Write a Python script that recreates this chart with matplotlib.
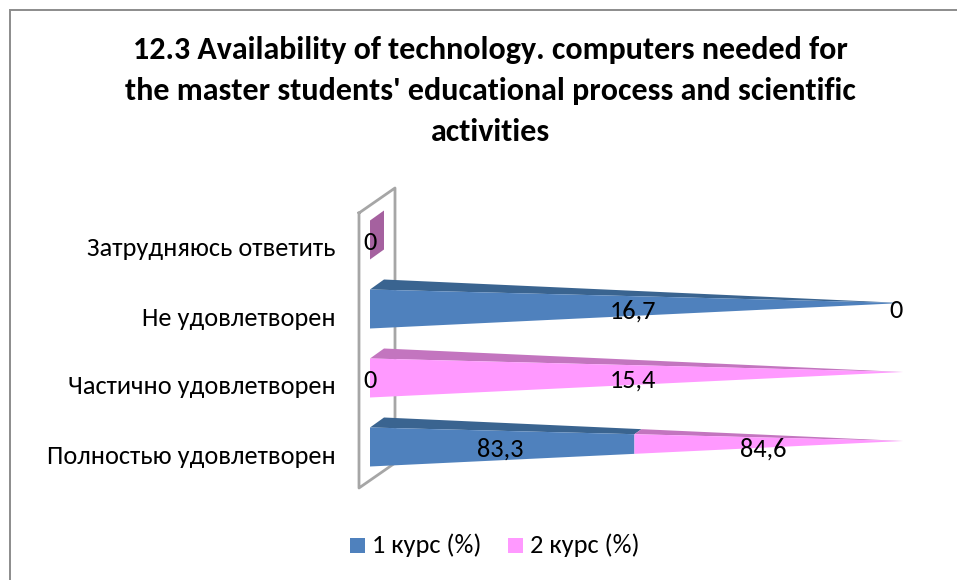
import numpy as np
import matplotlib
matplotlib.use('Agg')
import matplotlib.pyplot as plt
from matplotlib.patches import Rectangle

plt.rcParams['font.family'] = ['Carlito', 'Lato', 'Noto Sans', 'DejaVu Sans']

W, H = 957, 580

categories = ['Полностью удовлетворен', 'Частично удовлетворен', 'Не удовлетворен', 'Затрудняюсь ответить']
course1 = [83.3, 0, 16.7, 0]
course2 = [84.6, 15.4, 0, 0]
series_names = ['1 курс (%)', '2 курс (%)']
labels1 = ['83,3', '0', '16,7', '0']
labels2 = ['84,6', '15,4', '0', '']
title = ("12.3 Availability of technology. computers needed for\n"
         "the master students' educational process and scientific\n"
         "activities")

col1, col1_top = '#4F81BD', '#3A6490'
col2, col2_top = '#FF99FF', '#C375BF'
col_empty = '#A5619F'
fs = 19

fig = plt.figure(figsize=(W / 100, H / 100), dpi=100)

# chart frame and wall live in a pixel overlay
bg = fig.add_axes([0, 0, 1, 1])
bg.set_xlim(0, W)
bg.set_ylim(H, 0)
bg.axis('off')
bg.add_patch(Rectangle((9.5, 9.5), W + 10, H + 10, fc='white', ec='#8C8C8C', lw=1.4))
bg.plot([359, 395, 395, 359, 359], [213, 188, 463, 488, 213], color='#A6A6A6', lw=2)

# percent-stacked axis: 0..100 is x 370..903, one category is 69 px
step = 69.0
left, right = 370, 903
y0 = 447.0
ax = fig.add_axes([left / W, 0, (right - left) / W, 1])
ax.set_xlim(0, 100)
ax.set_ylim((y0 - H) / step, y0 / step)
ax.patch.set_alpha(0)
for s in ax.spines.values():
    s.set_visible(False)
ax.xaxis.set_visible(False)
# tick labels sit lower than the bar centres
ax.set_yticks([i - 7 / step for i in range(len(categories))])
ax.set_yticklabels(categories, fontsize=fs, color='black')
ax.tick_params(axis='y', length=0, pad=25)

half = 19.5 / step      # half height of pyramid base
dx_back = 14 / (right - left) * 100   # depth offset of the base
dy_back = 10 / step
rise = 6 / step         # apex sits above the centre of the base
label_drop = 2 / step


def piece(y, a, b, col, col_top):
    # slice of the pyramid between shares a and b (0..1)
    apex = y + rise
    t = lambda s: y + half + (apex - y - half) * s
    u = lambda s: y - half + (apex - y + half) * s
    bx = lambda s: dx_back + (100 - dx_back) * s
    by = lambda s: y + half + dy_back + (apex - y - half - dy_back) * s
    ax.fill([bx(a), bx(b), b * 100, a * 100], [by(a), by(b), t(b), t(a)], color=col_top, lw=0)
    ax.fill([a * 100, b * 100, b * 100, a * 100], [t(a), t(b), u(b), u(a)], color=col, lw=0)


for i in range(len(categories)):
    total = course1[i] + course2[i]
    if total == 0:
        # empty category: only the base shows
        ax.fill([0, dx_back, dx_back, 0],
                [i + half, i + half + dy_back, i - half + dy_back, i - half],
                color=col_empty, lw=0)
        ax.text(0, i - label_drop, labels1[i], ha='center', va='center', fontsize=fs)
        continue
    s1 = course1[i] / total
    if s1 > 0:
        piece(i, 0, s1, col1, col1_top)
    if s1 < 1:
        piece(i, s1, 1, col2, col2_top)
    ax.text(s1 * 50 * 0.987, i - label_drop, labels1[i], ha='center', va='center', fontsize=fs)
    ax.text((s1 + 1) * 50 * 0.987, i - label_drop, labels2[i], ha='center', va='center', fontsize=fs)

bg.text(490.5, 91, title, ha='center', va='center', fontsize=23, fontweight='bold', linespacing=1.55)

# legend
bg.add_patch(Rectangle((350, 538), 15, 15, fc=col1, lw=0))
bg.text(372, 545, series_names[0], ha='left', va='center', fontsize=fs)
bg.add_patch(Rectangle((508, 538), 15, 15, fc=col2, lw=0))
bg.text(530, 545, series_names[1], ha='left', va='center', fontsize=fs)

fig.savefig('out.png', dpi=100)
